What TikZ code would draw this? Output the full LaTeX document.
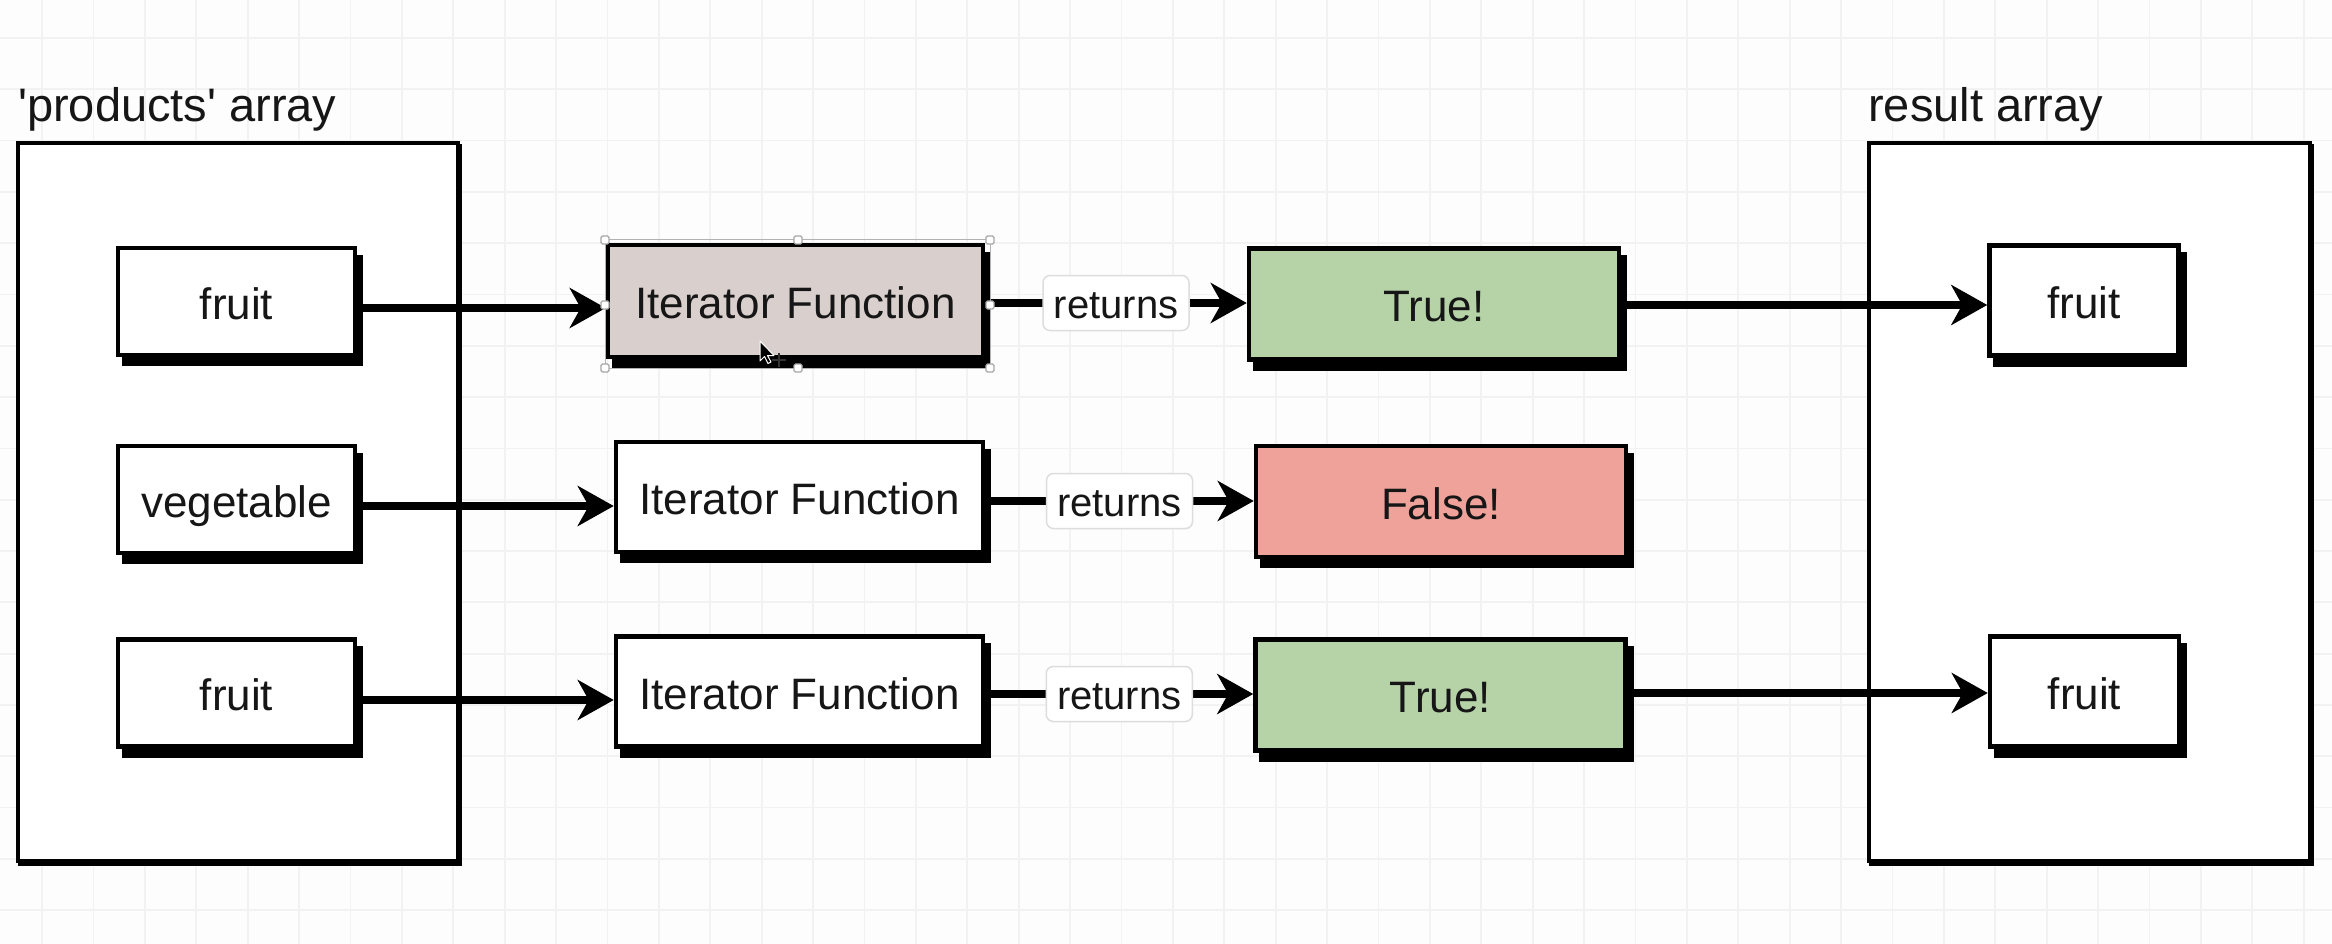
\documentclass[tikz,border=0pt]{standalone}
\usepackage{fontspec}
\setmainfont{Liberation Sans}
\usetikzlibrary{arrows.meta}

\definecolor{paper}{HTML}{FDFDFD}
\definecolor{gridc}{HTML}{F2F2F2}
\definecolor{ink}{HTML}{161616}
\definecolor{truefill}{HTML}{B6D3A8}
\definecolor{falsefill}{HTML}{EEA29A}
\definecolor{selfill}{HTML}{D9CFCC}
\definecolor{labelrim}{HTML}{DDDDDD}

\begin{document}
\begin{tikzpicture}[x=1pt, y=-1pt,
  gridline/.style={draw=gridc, line width=1.8pt},
  container/.style={draw=black, fill=white, line width=4pt, inner sep=0pt,
    preaction={draw=black, fill=black, line width=4pt,
      transform canvas={shift={(2pt,-3pt)}}}},
  sketch/.style={draw=black, line width=4.5pt, inner sep=0pt, text=ink,
    font=\fontsize{44}{52}\selectfont, text height=38pt, text depth=3pt,
    preaction={draw=black, fill=black, line width=4.5pt,
      transform canvas={shift={(6pt,-9pt)}}}},
  itembox/.style={sketch, fill=white, minimum width=237pt, minimum height=107pt},
  fnbox/.style={sketch, fill=white, minimum width=367pt, minimum height=110pt},
  resultbox/.style={sketch, minimum width=370pt, minimum height=111pt},
  outbox/.style={sketch, fill=white, minimum width=189pt, minimum height=110pt},
  title/.style={anchor=base west, inner sep=0pt, text=ink,
    font=\fontsize{47}{56}\selectfont},
  retlabel/.style={draw=labelrim, fill=white, line width=1.5pt, rounded corners=7pt,
    minimum width=146pt, minimum height=55pt, inner sep=0pt, text=ink,
    font=\fontsize{40}{48}\selectfont, text height=31pt, text depth=0pt},
  arr/.style={draw=black, line width=8pt,
    -{Stealth[length=36pt, width=40pt, inset=11pt]}},
  handle/.style={draw=gray!70, fill=white, line width=1.2pt, rounded corners=1.5pt,
    minimum size=8pt, inner sep=0pt},
]
\useasboundingbox (0,0) rectangle (2332,944);

% paper with a light grid
\fill[paper] (0,0) rectangle (2332,944);
\foreach \k in {0,...,44} \draw[gridline] ({42+51.4*\k},0) -- ({42+51.4*\k},944);
\foreach \k in {0,...,17} \draw[gridline] (0,{38+51.3*\k}) -- (2332,{38+51.3*\k});

% the two arrays
\node[container, minimum width=440pt, minimum height=718pt] (prodbox) at (238,502) {};
\node[container, minimum width=441pt, minimum height=718pt] (resbox) at (2089.5,502) {};
\node[title] (prodlbl) at (18,122) {\textquotesingle products\textquotesingle{} array};
\node[title] (reslbl) at (1868,122) {result array};

% heights of the connectors in each row
\coordinate (r1a) at (0,308);
\coordinate (r1b) at (0,303);
\coordinate (r1c) at (0,305);
\coordinate (r2a) at (0,506);
\coordinate (r2b) at (0,501);
\coordinate (r3a) at (0,700);
\coordinate (r3b) at (0,694);
\coordinate (r3c) at (0,693);

% items of the products array
\node[itembox] (in1) at (236.5,301.5) {fruit};
\node[itembox] (in2) at (236.5,499.5) {vegetable};
\node[itembox] (in3) at (236.5,693) {fruit};

% the iterator function calls
\node[fnbox, fill=selfill, minimum width=375pt, minimum height=112pt] (fn1) at (795.5,301) {Iterator Function};
\node[fnbox] (fn2) at (799.5,497) {Iterator Function};
\node[fnbox] (fn3) at (799.5,691.5) {Iterator Function};

% returned values
\node[resultbox, fill=truefill] (ret1) at (1434,304) {True!};
\node[resultbox, fill=falsefill] (ret2) at (1441,501.5) {False!};
\node[resultbox, fill=truefill] (ret3) at (1440.5,695) {True!};

% items kept in the result array
\node[outbox] (out1) at (2084,300.5) {fruit};
\node[outbox] (out3) at (2084.5,691.5) {fruit};

% connectors
\draw[arr] (in1.east |- r1a) -- (fn1.west |- r1a);
\draw[arr] (in2.east |- r2a) -- (fn2.west |- r2a);
\draw[arr] (in3.east |- r3a) -- (fn3.west |- r3a);

\draw[arr] (fn1.east |- r1b) -- node[retlabel] (lab1) {returns} (ret1.west |- r1b);
\draw[arr] (fn2.east |- r2b) -- node[retlabel] (lab2) {returns} (ret2.west |- r2b);
\draw[arr] (fn3.east |- r3b) -- node[retlabel] (lab3) {returns} (ret3.west |- r3b);

\draw[arr] (ret1.east |- r1c) -- (out1.west |- r1c);
\draw[arr] (ret3.east |- r3c) -- (out3.west |- r3c);

% selection frame with handles on the first call
\draw[gray!60, line width=1pt] (605,240) rectangle (990,368);
\node[handle] (h1) at (605,240) {};
\node[handle] (h2) at (798,240) {};
\node[handle] (h3) at (990,240) {};
\node[handle] (h4) at (605,305) {};
\node[handle] (h5) at (990,305) {};
\node[handle] (h6) at (605,368) {};
\node[handle] (h7) at (798,368) {};
\node[handle] (h8) at (990,368) {};

% mouse pointer
\draw[fill=black, draw=white, line width=1pt, line join=round]
  (760,341) -- ++(0,20) -- ++(4.5,-4.5) -- ++(3.5,7) -- ++(3,-1.5)
  -- ++(-3.5,-6.5) -- ++(6.5,0) -- cycle;
\draw[black!80, line width=1.6pt] (772,360) -- (786,360) (779,353) -- (779,367);
\end{tikzpicture}
\end{document}
